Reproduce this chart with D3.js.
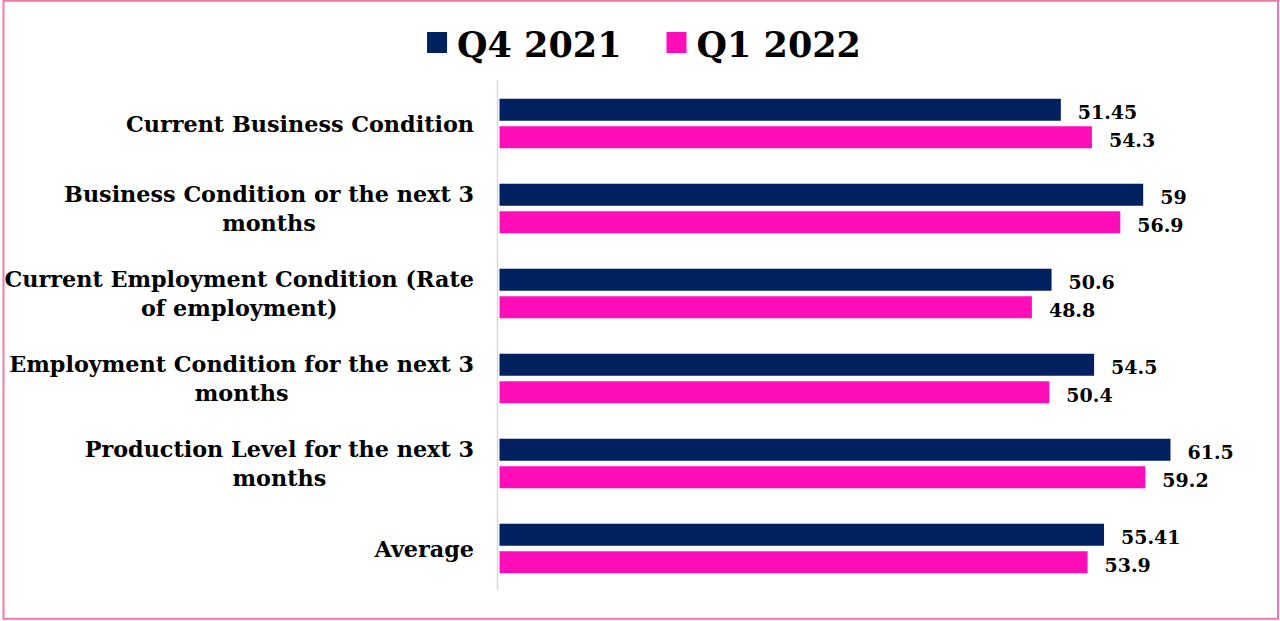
<!DOCTYPE html>
<html><head><meta charset="utf-8">
<script src="https://cdn.jsdelivr.net/npm/d3@7"></script>
<style>html,body{margin:0;padding:0;background:#fff;}svg{display:block;}</style>
</head><body>
<svg id="chart" width="1280" height="621"></svg>
<script>
const categories = [
  ["Current Business Condition"],
  ["Business Condition or the next 3", "months"],
  ["Current Employment Condition (Rate", "of employment)"],
  ["Employment Condition for the next 3", "months"],
  ["Production Level for the next 3", "months"],
  ["Average"]
];
const seriesNames = ["Q4 2021", "Q1 2022"];
const q4_2021 = [51.45, 59, 50.6, 54.5, 61.5, 55.41];
const q1_2022 = [54.3, 56.9, 48.8, 50.4, 59.2, 53.9];
const valueLabels = [
  ["51.45", "59", "50.6", "54.5", "61.5", "55.41"],
  ["54.3", "56.9", "48.8", "50.4", "59.2", "53.9"]
];
const colors = ["#002060", "#FF0DB9"];

const FONT = "'DejaVu Serif', serif";
const svg = d3.select("#chart");

// border
svg.append("rect").attr("x", 3.5).attr("y", 0.8).attr("width", 1274.5).attr("height", 618)
  .attr("fill", "none").attr("stroke", "#F07BA4").attr("stroke-width", 2);

const x = d3.scaleLinear().domain([0, 70]).range([499.5, 499.5 + 70 * 10.91]);
const keys = categories.map((c, i) => i);
const y0 = d3.scaleBand().domain(keys).range([81, 591]).paddingInner(0).paddingOuter(0);
const y1 = d3.scaleBand().domain([0, 1]).range([0, y0.bandwidth()]).paddingInner(0.2).paddingOuter(0.645);

const seriesData = [q4_2021, q1_2022];

// axis line
svg.append("line").attr("x1", 497.5).attr("x2", 497.5).attr("y1", 80).attr("y2", 590)
  .attr("stroke", "#D9D9D9").attr("stroke-width", 1.5);

// bars
seriesData.forEach((vals, s) => {
  svg.append("g").selectAll("rect").data(vals).join("rect")
    .attr("x", x(0))
    .attr("y", (d, i) => y0(i) + y1(s))
    .attr("width", d => x(d) - x(0))
    .attr("height", y1.bandwidth())
    .attr("fill", colors[s]);
  svg.append("g").selectAll("text").data(vals).join("text")
    .attr("x", d => x(d) + 17)
    .attr("y", (d, i) => y0(i) + y1(s) + y1.bandwidth() / 2 + 9.5)
    .attr("font-family", FONT).attr("font-weight", "bold").attr("font-size", 19)
    .attr("fill", "#000")
    .text((d, i) => valueLabels[s][i]);
});

// category labels
const labelRight = 474;
categories.forEach((lines, i) => {
  const cy = y0(i) + y0.bandwidth() / 2;
  const g = svg.append("g");
  const texts = lines.map((ln, j) => g.append("text")
    .attr("font-family", FONT).attr("font-weight", "bold").attr("font-size", 22.3)
    .attr("fill", "#000")
    .attr("y", cy + 8 + (j - (lines.length - 1) / 2) * 28.5)
    .text(ln));
  const widths = texts.map(t => t.node().getComputedTextLength());
  const W = d3.max(widths);
  const center = labelRight - W / 2;
  texts.forEach(t => t.attr("x", center).attr("text-anchor", "middle"));
});

// legend
const lg = svg.append("g");
const items = seriesNames.map((name, s) => {
  const t = lg.append("text").attr("font-family", FONT).attr("font-weight", "bold")
    .attr("font-size", 35).attr("fill", "#000").attr("y", 56.5).text(name);
  return {t, w: t.node().getComputedTextLength(), s};
});
const sq = 20, gapSq = 10, gapItem = 45;
const total = d3.sum(items, d => sq + gapSq + d.w) + gapItem * (items.length - 1);
let cx = 644 - total / 2;
items.forEach(it => {
  lg.append("rect").attr("x", cx).attr("y", 32).attr("width", sq).attr("height", 21).attr("fill", colors[it.s]);
  it.t.attr("x", cx + sq + gapSq);
  cx += sq + gapSq + it.w + gapItem;
});
</script>
</body></html>
